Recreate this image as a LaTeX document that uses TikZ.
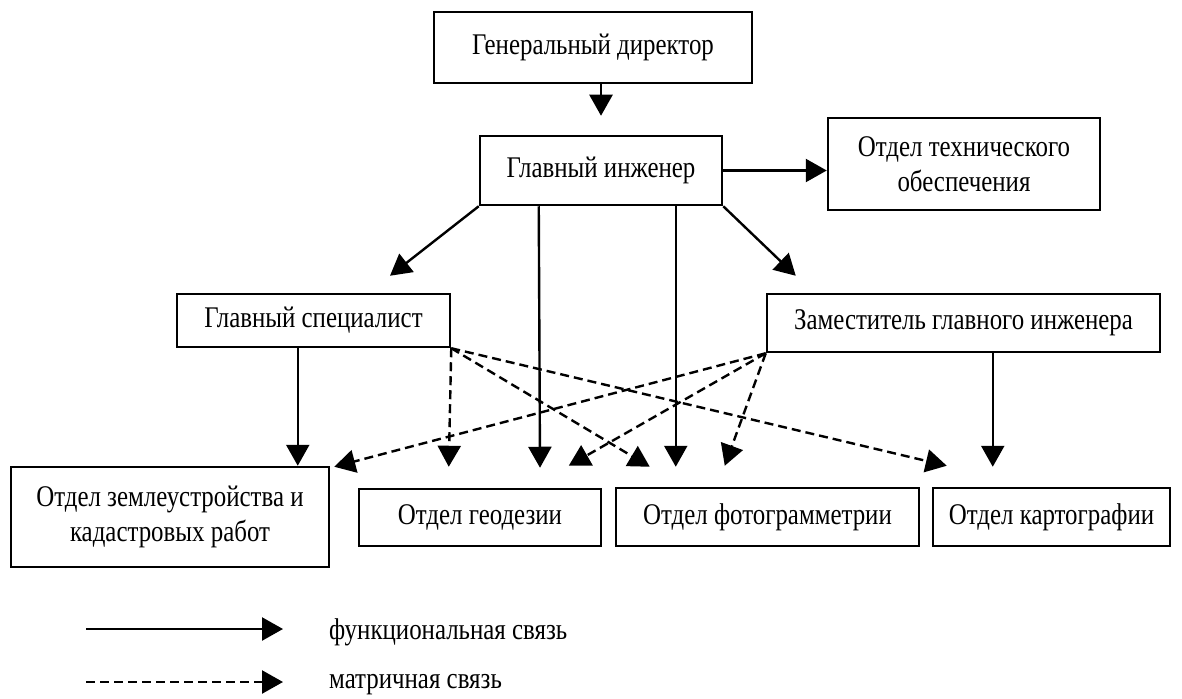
\documentclass[tikz,border=0pt]{standalone}
\usepackage{fontspec}
\setmainfont{Liberation Serif}[FakeStretch=0.83]
\usetikzlibrary{arrows.meta,calc}
\begin{document}
\begin{tikzpicture}[x=1pt,y=-1pt,
  box/.style={draw,line width=2.5pt,inner sep=0pt,align=center,font=\fontsize{30}{35}\selectfont},
  lbl/.style={inner sep=0pt,anchor=west,font=\fontsize{30}{35}\selectfont},
  func/.style={line width=2.4pt,-{Triangle[length=21pt,width=23pt]}},
  matr/.style={func,dash pattern=on 9pt off 5pt}]
\fill[white] (0,0) rectangle (1182,698);
\useasboundingbox (0,0) rectangle (1182,698);
% boxes
\node[box,minimum width=318pt,minimum height=71pt] (gd) at (593,47.5) {Генеральный директор};
\node[box,minimum width=242pt,minimum height=69pt] (gi) at (601,170.5) {Главный инженер};
\node[box,minimum width=272pt,minimum height=92pt] (oto) at (964,164) {Отдел технического\\обеспечения};
\node[box,minimum width=273pt,minimum height=53pt] (gs) at (313.5,320.5) {Главный специалист};
\node[box,minimum width=393pt,minimum height=58pt] (zgi) at (963.5,323) {Заместитель главного инженера};
\node[box,minimum width=318pt,minimum height=100pt] (ozk) at (170,517) {Отдел землеустройства и\\кадастровых работ};
\node[box,minimum width=242pt,minimum height=57pt] (geo) at (480,517.5) {Отдел геодезии};
\node[box,minimum width=303pt,minimum height=58pt] (foto) at (767.5,517) {Отдел фотограмметрии};
\node[box,minimum width=237pt,minimum height=58pt] (karto) at (1051.5,517) {Отдел картографии};
% functional links
\draw[func] (gi.north |- gd.south) -- ($(gi.north)+(0,-19)$);
\draw[func] (gi.east) -- (oto.west |- gi.east);
\draw[func] (gi.south west) -- ($(gs.north)+(76.5,-17)$);
\draw[func] (gi.south east) -- ($(zgi.north west)+(30,-17)$);
\draw[func] ($(gi.south west)+(60,0)$) -- ($(geo.north)+(60,-20)$);
\draw[func] ($(gi.south west)+(197,0)$) -- ($(foto.north west)+(61,-20)$);
\draw[func] ($(gs.south west)+(122,0)$) -- ($(ozk.north west)+(288,0)$);
\draw[func] ($(zgi.south west)+(227,0)$) -- ($(karto.north west)+(61,-20)$);
% matrix links
\draw[matr] (gs.south east) -- ($(geo.north west)+(91,-21)$);
\draw[matr] (gs.south east) -- ($(foto.north west)+(35,-20)$);
\draw[matr] (gs.south east) -- ($(karto.north west)+(15,-21)$);
\draw[matr] (zgi.south west) -- ($(ozk.north east)+(4,1)$);
\draw[matr] (zgi.south west) -- ($(geo.north west)+(211,-22)$);
\draw[matr] (zgi.south west) -- ($(foto.north west)+(110,-21)$);
% legend
\coordinate (l1a) at (86,629);
\coordinate (l1b) at (283,629);
\coordinate (l2a) at (86,682);
\coordinate (l2b) at (283,682);
\draw[func] (l1a) -- (l1b);
\draw[matr] (l2a) -- (l2b);
\node[lbl] (t1) at (329,632) {функциональная связь};
\node[lbl] (t2) at (329,685) {матричная связь};
\end{tikzpicture}
\end{document}
